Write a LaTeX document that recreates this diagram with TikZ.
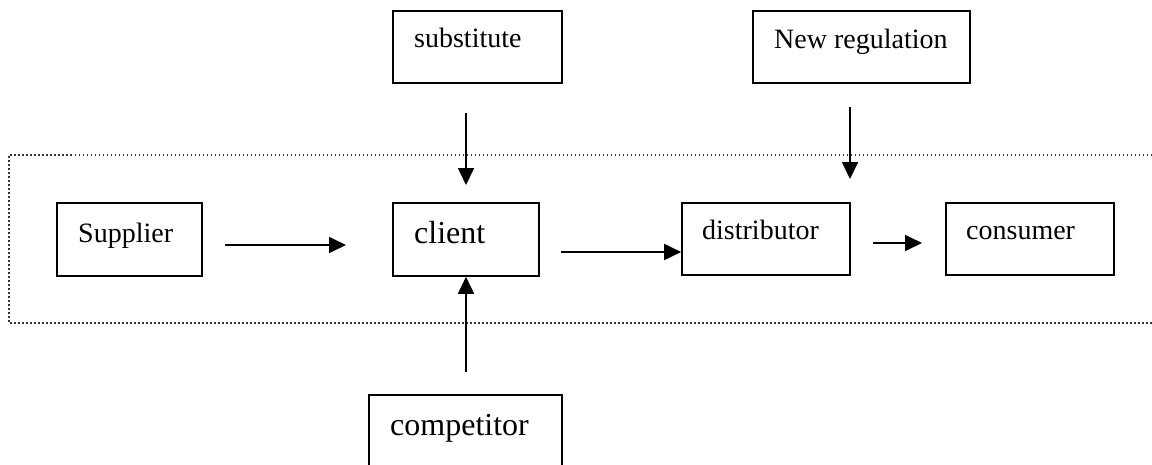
\documentclass[tikz,border=0pt]{standalone}
\usepackage{fontspec}
\setmainfont{Liberation Serif}
\usetikzlibrary{arrows.meta}
\tikzset{
  box/.style={draw, line width=1.6pt, rectangle, inner sep=0pt},
  txt/.style={anchor=base west, inner sep=0pt, font=\fontsize{28}{32}\selectfont},
  bigtxt/.style={anchor=base west, inner sep=0pt, font=\fontsize{32}{36}\selectfont},
  flow/.style={line width=1.7pt, -{Triangle[length=17pt,width=16pt]}},
  border/.style={line width=1.5pt, black!80, dash pattern=on 1.5pt off 2.5pt}
}
\begin{document}
\begin{tikzpicture}[x=1pt,y=-1pt]
  \useasboundingbox (0,0) rectangle (1152,464);
  \clip (0,0) rectangle (1152,464);
  \fill[white] (0,0) rectangle (1152,464);

  % boundary of the industry (open to the right)
  \draw[border] (1152,155) -- (9,155) -- (9,323) -- (1152,323);

  % boxes
  \node[box, minimum width=169pt, minimum height=72pt] (sub) at (477.5,47) {};
  \node[box, minimum width=217pt, minimum height=72pt] (reg) at (861.5,47) {};
  \node[box, minimum width=145pt, minimum height=73pt] (sup) at (129.5,239.5) {};
  \node[box, minimum width=146pt, minimum height=73pt] (cli) at (466,239.5) {};
  \node[box, minimum width=168pt, minimum height=72pt] (dis) at (766,239) {};
  \node[box, minimum width=168pt, minimum height=72pt] (con) at (1030,239) {};
  \node[box, minimum width=193pt, minimum height=80pt] (com) at (465.5,435) {};

  % labels
  \node[txt] (subt) at (414,47) {substitute};
  \node[txt] (regt) at (774,48) {New regulation};
  \node[txt] (supt) at (78,242) {Supplier};
  \node[bigtxt] (clit) at (414,243) {client};
  \node[txt] (dist) at (702,239) {distributor};
  \node[txt] (cont) at (966,239) {consumer};
  \node[bigtxt] (comt) at (390,435) {competitor};

  % free ends of the connectors
  \coordinate (subS) at (466,113);
  \coordinate (regS) at (850,107);
  \coordinate (supS) at (225,245);
  \coordinate (cliS) at (561,252);
  \coordinate (disS) at (873,243);
  \coordinate (comS) at (466,372);
  \coordinate (regE) at (850,179);
  \coordinate (subE) at (466,185);
  \coordinate (supE) at (346,245);
  \coordinate (disE) at (922,243);

  % connectors
  \draw[flow] (subS) -- (subE);
  \draw[flow] (regS) -- (regE);
  \draw[flow] (supS) -- (supE);
  \draw[flow] (cliS) -- (cliS -| dis.west);
  \draw[flow] (disS) -- (disE);
  \draw[flow] (comS) -- (comS |- cli.south);
\end{tikzpicture}
\end{document}
